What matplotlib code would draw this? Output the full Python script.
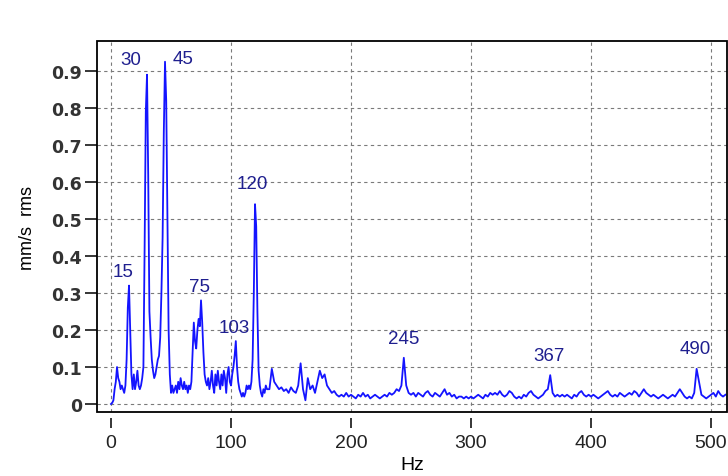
import matplotlib
matplotlib.use('Agg')
import matplotlib.pyplot as plt
import numpy as np
from matplotlib.patches import Rectangle

# Spectrum values (mm/s rms)
# fine part: 0..130 Hz, 1 Hz bins
amp_lo = [
    0.0, 0.003, 0.01, 0.04, 0.06, 0.10, 0.07, 0.06, 0.04, 0.05,      # 0
    0.04, 0.03, 0.05, 0.12, 0.26, 0.32, 0.20, 0.08, 0.04, 0.08,      # 10
    0.04, 0.06, 0.09, 0.05, 0.04, 0.05, 0.07, 0.10, 0.42, 0.79,      # 20
    0.89, 0.62, 0.25, 0.18, 0.12, 0.09, 0.07, 0.08, 0.10, 0.12,      # 30
    0.13, 0.18, 0.30, 0.45, 0.735, 0.925, 0.82, 0.50, 0.20, 0.08,    # 40
    0.03, 0.05, 0.03, 0.04, 0.05, 0.03, 0.06, 0.04, 0.07, 0.05,      # 50
    0.04, 0.06, 0.04, 0.05, 0.03, 0.05, 0.04, 0.06, 0.14, 0.22,      # 60
    0.17, 0.15, 0.20, 0.23, 0.21, 0.28, 0.22, 0.14, 0.08, 0.06,      # 70
    0.05, 0.07, 0.04, 0.06, 0.09, 0.05, 0.03, 0.08, 0.05, 0.09,      # 80
    0.06, 0.04, 0.08, 0.05, 0.09, 0.07, 0.03, 0.08, 0.10, 0.06,      # 90
    0.05, 0.08, 0.10, 0.13, 0.17, 0.10, 0.06, 0.04, 0.03, 0.02,      # 100
    0.03, 0.02, 0.03, 0.05, 0.04, 0.05, 0.04, 0.06, 0.12, 0.30,      # 110
    0.54, 0.48, 0.25, 0.09, 0.05, 0.03, 0.02, 0.04, 0.03, 0.05,      # 120
    0.04,                                                            # 130
]
# coarse part: 132..512 Hz, 2 Hz bins
amp_hi = [
    0.04, 0.095, 0.06, 0.05, 0.04, 0.045, 0.035, 0.04, 0.03, 0.045,        # 132
    0.035, 0.03, 0.05, 0.11, 0.04, 0.01, 0.07, 0.04, 0.05, 0.03,           # 152
    0.06, 0.09, 0.07, 0.08, 0.05, 0.04, 0.03, 0.035, 0.025, 0.02,          # 172
    0.025, 0.02, 0.03, 0.02, 0.025, 0.02, 0.015, 0.025, 0.02, 0.03,        # 192
    0.02, 0.025, 0.015, 0.02, 0.025, 0.02, 0.015, 0.02, 0.025, 0.02,       # 212
    0.03, 0.025, 0.03, 0.04, 0.035, 0.05, 0.125, 0.05, 0.03, 0.025,        # 232
    0.03, 0.02, 0.03, 0.025, 0.02, 0.03, 0.035, 0.025, 0.02, 0.03,         # 252
    0.025, 0.02, 0.03, 0.04, 0.025, 0.03, 0.02, 0.025, 0.015, 0.02,        # 272
    0.02, 0.015, 0.02, 0.015, 0.02, 0.015, 0.02, 0.025, 0.02, 0.015,       # 292
    0.025, 0.02, 0.03, 0.025, 0.03, 0.025, 0.035, 0.025, 0.02, 0.025,      # 312
    0.035, 0.03, 0.02, 0.015, 0.02, 0.015, 0.025, 0.02, 0.03, 0.035,       # 332
    0.025, 0.02, 0.015, 0.02, 0.025, 0.035, 0.04, 0.078, 0.03, 0.02,       # 352
    0.025, 0.02, 0.025, 0.02, 0.025, 0.02, 0.015, 0.025, 0.02, 0.03,       # 372
    0.035, 0.025, 0.02, 0.025, 0.02, 0.025, 0.02, 0.015, 0.02, 0.025,      # 392
    0.03, 0.035, 0.025, 0.02, 0.025, 0.02, 0.03, 0.025, 0.02, 0.025,       # 412
    0.03, 0.025, 0.035, 0.03, 0.02, 0.03, 0.04, 0.03, 0.025, 0.02,         # 432
    0.025, 0.02, 0.015, 0.02, 0.025, 0.02, 0.015, 0.02, 0.025, 0.02,       # 452
    0.03, 0.04, 0.03, 0.02, 0.015, 0.02, 0.015, 0.03, 0.095, 0.06,         # 472
    0.025, 0.02, 0.015, 0.02, 0.025, 0.03, 0.02, 0.035, 0.025, 0.02,       # 492
    0.025,                                                                 # 512
]
freq_lo = 0 + 1.0 * np.arange(len(amp_lo))
freq_hi = 132 + 2.0 * np.arange(len(amp_hi))
freq = np.concatenate([freq_lo, freq_hi])
amp = np.array(amp_lo + amp_hi)

peak_labels = ['15', '30', '45', '75', '103', '120', '245', '367', '490']
# label offsets from the peak top, in points
label_dx = [-4, -12, 13, -1, -1, -2, 0, -1, -1]
label_dy = [10, 11, 2, 10, 10, 15, 14, 14, 15]

xticks = [0, 100, 200, 300, 400, 500]
yticks = [0, 0.1, 0.2, 0.3, 0.4, 0.5, 0.6, 0.7, 0.8, 0.9]
ytick_labels = ['0', '0.1', '0.2', '0.3', '0.4', '0.5', '0.6', '0.7', '0.8', '0.9']

plt.rcParams['font.family'] = ['Liberation Sans', 'DejaVu Sans']

fig = plt.figure(figsize=(7.28, 4.77), dpi=100)
ax = fig.add_axes([0.1332, 0.1342, 0.8654, 0.7777])

ax.plot(freq, amp, color='#1414ff', linewidth=1.3)

for lab, dx, dy in zip(peak_labels, label_dx, label_dy):
    f0 = float(lab)
    near = np.abs(freq - f0) <= 3
    i = np.argmax(np.where(near, amp, -1))
    ax.annotate(lab, xy=(freq[i], amp[i]), xytext=(dx, dy), textcoords='offset points',
                ha='center', va='center', fontsize=13.5, color='#1f1f8f')

ax.set_xlim(-11.7, 513.3)
ax.set_ylim(-0.0216, 0.981)
ax.set_xticks(xticks)
ax.set_yticks(yticks)
ax.set_yticklabels(ytick_labels)

ax.grid(True, color='#7a7a7a', linestyle=(0, (3, 3)), linewidth=0.8)

# ticks of the x axis sit a little below the frame
ax.spines['bottom'].set_position(('outward', 4))
for s in ax.spines.values():
    s.set_visible(False)
ax.add_patch(Rectangle((0, 0), 1, 1, transform=ax.transAxes, fill=False,
                       edgecolor='black', linewidth=1.3, clip_on=False, zorder=5))

ax.tick_params(axis='x', direction='out', length=7.2, width=1.1, pad=5)
ax.tick_params(axis='y', direction='out', length=8.6, width=1.1, pad=2)
for t in ax.get_xticklabels():
    t.set_fontsize(14)
    t.set_color('#222222')
for t in ax.get_yticklabels():
    t.set_family('DejaVu Sans')
    t.set_fontweight('bold')
    t.set_fontsize(12.5)
    t.set_color('#333333')

ax.set_xlabel('Hz', fontsize=14, labelpad=3)
ax.set_ylabel('mm/s  rms', fontsize=13, labelpad=11)

fig.savefig('out.png', dpi=100)
